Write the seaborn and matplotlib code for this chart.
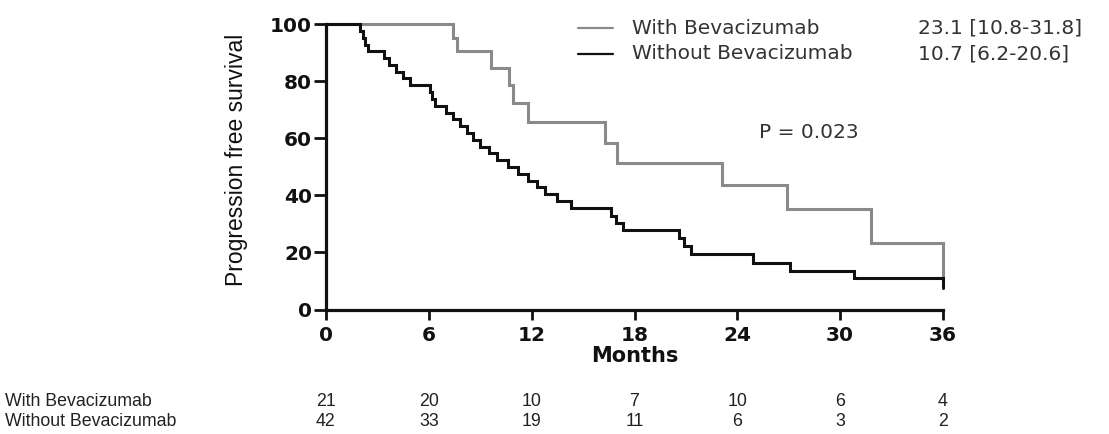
import matplotlib
matplotlib.use("Agg")
import matplotlib.pyplot as plt
from matplotlib.lines import Line2D
from matplotlib.transforms import blended_transform_factory
import pandas as pd
import seaborn as sns

# Kaplan-Meier step values (months, % progression free)
groups = ["With Bevacizumab", "Without Bevacizumab"]

with_months = [0, 7.4, 7.65, 9.6, 10.65, 10.9, 11.8, 16.3, 17.0, 23.1, 26.9, 31.8, 36.0]
with_pfs = [100, 95.2, 90.5, 84.6, 78.6, 72.4, 65.6, 58.5, 51.2, 43.8, 35.4, 23.3, 11.0]

without_months = [0, 2.0, 2.15, 2.3, 2.45, 3.4, 3.7, 4.1, 4.5, 4.9,
                  6.05, 6.2, 6.35, 7.0, 7.4, 7.8, 8.2, 8.6, 9.0, 9.5,
                  10.0, 10.6, 11.2, 11.8, 12.3, 12.8, 13.5, 14.3, 16.6, 16.9,
                  17.3, 20.6, 20.9, 21.3, 24.9, 27.1, 30.8, 36.0]
without_pfs = [100, 97.6, 95.2, 92.9, 90.5, 88.1, 85.7, 83.3, 81.0, 78.6,
               76.2, 73.8, 71.4, 69.0, 66.7, 64.3, 61.9, 59.5, 57.1, 54.8,
               52.4, 50.0, 47.6, 45.2, 42.9, 40.5, 38.1, 35.7, 32.9, 30.3,
               27.7, 25.0, 22.2, 19.4, 16.4, 13.6, 10.9, 7.4]

medians = ["23.1 [10.8-31.8]", "10.7 [6.2-20.6]"]
p_value = "P = 0.023"

tick_months = [0, 6, 12, 18, 24, 30, 36]
risk_with = [21, 20, 10, 7, 10, 6, 4]
risk_without = [42, 33, 19, 11, 6, 3, 2]

colors = {"With Bevacizumab": "#8a8a8a", "Without Bevacizumab": "#111111"}

df = pd.concat([
    pd.DataFrame({"months": with_months, "pfs": with_pfs, "group": groups[0]}),
    pd.DataFrame({"months": without_months, "pfs": without_pfs, "group": groups[1]}),
], ignore_index=True)

sns.set_theme(style="ticks")
plt.rcParams["font.family"] = ["DejaVu Sans"]

W, H = 1109, 434
fig = plt.figure(figsize=(W / 100, H / 100), dpi=100)
ax = fig.add_axes([326 / W, 1 - 309.5 / H, 617 / W, 285.2 / H])

sns.lineplot(data=df, x="months", y="pfs", hue="group", palette=colors,
             drawstyle="steps-post", estimator=None, sort=False,
             legend=False, linewidth=2.2, ax=ax)
for ln in ax.lines:
    ln.set_clip_on(False)
    ln.set_solid_joinstyle("miter")

ax.set_xlim(0, 36)
ax.set_ylim(0, 100)
ax.set_xticks(tick_months)
ax.set_yticks([0, 20, 40, 60, 80, 100])
sns.despine(ax=ax)
for side in ("left", "bottom"):
    ax.spines[side].set_linewidth(2.3)
    ax.spines[side].set_color("#111111")
ax.tick_params(axis="y", length=9, width=2.0, pad=1, color="#111111",
               labelsize=14.5, labelcolor="#111111")
ax.tick_params(axis="x", length=7, width=2.0, pad=5, color="#111111",
               labelsize=14.5, labelcolor="#111111")
for lab in ax.get_xticklabels() + ax.get_yticklabels():
    lab.set_fontweight("bold")

ax.set_xlabel("Months", fontsize=15, fontweight="bold", color="#111111")
ax.xaxis.label.set_va("center")
ax.xaxis.set_label_coords(0.5, (309.5 - 356) / 285.2)

ax.set_ylabel("Progression free survival", fontsize=16.5,
              family="Liberation Sans", color="#111111")
ax.yaxis.label.set_va("center")
ax.yaxis.set_label_coords((236 - 326) / 617, (309.5 - 160) / 285.2)

# legend with median PFS
leg_rows = [28, 53.5]
for g, yy, med in zip(groups, leg_rows, medians):
    fy = 1 - yy / H
    fig.add_artist(Line2D([578 / W, 613 / W], [fy, fy], color=colors[g],
                          linewidth=1.6, transform=fig.transFigure))
    fig.text(632 / W, fy, g, fontsize=14.5, color="#333333", va="center", ha="left")
    fig.text(918 / W, fy, med, fontsize=14.5, color="#333333", va="center", ha="left")

fig.text(809 / W, 1 - 133 / H, p_value, fontsize=14.5, color="#333333",
         va="center", ha="center")

# numbers at risk
tr = blended_transform_factory(ax.transData, fig.transFigure)
for label, counts, yy in zip(groups, [risk_with, risk_without], [401, 421]):
    fy = 1 - yy / H
    fig.text(5 / W, fy, label, fontsize=12.8, family="Liberation Sans",
             color="#222222", va="center", ha="left")
    for m, c in zip(tick_months, counts):
        ax.text(m, fy, str(c), transform=tr, fontsize=12.8,
                family="Liberation Sans", color="#222222",
                va="center", ha="center", clip_on=False)

fig.savefig("out.png", dpi=100)
